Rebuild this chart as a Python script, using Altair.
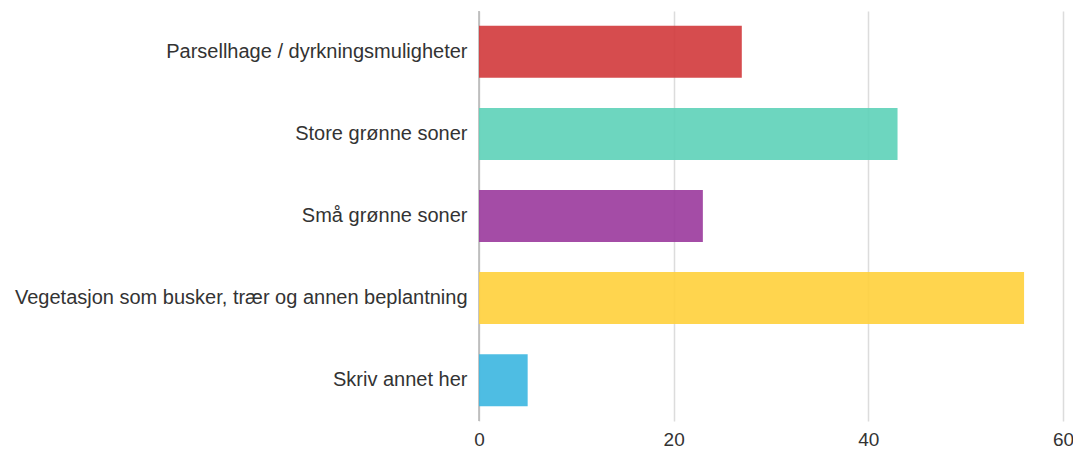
import altair as alt
import pandas as pd

categories = [
    "Parsellhage / dyrkningsmuligheter",
    "Store grønne soner",
    "Små grønne soner",
    "Vegetasjon som busker, trær og annen beplantning",
    "Skriv annet her",
]
values = [27, 43, 23, 56, 5]
colors = ["#d2383b", "#5dd1b8", "#9a389c", "#ffd03b", "#3bb6e0"]
x_ticks = [0, 20, 40, 60]

df = pd.DataFrame({"kategori": categories, "antall": values})

FONT = "Liberation Sans, Arial, sans-serif"

bars = alt.Chart(df).mark_bar(opacity=0.9).encode(
    y=alt.Y(
        "kategori:N",
        sort=categories,
        title=None,
        scale=alt.Scale(paddingInner=0.366, paddingOuter=0.18),
        axis=alt.Axis(
            domain=False, ticks=False, labelPadding=12, labelFontSize=20,
            labelFont=FONT, labelColor="#333333", labelLimit=600, grid=False,
        ),
    ),
    x=alt.X(
        "antall:Q",
        title=None,
        scale=alt.Scale(domain=[0, 60], nice=False),
        axis=alt.Axis(
            values=x_ticks, domain=False, ticks=False, labelPadding=9,
            labelFontSize=19, labelFont=FONT, labelColor="#333333",
            labelFlush=False, labelOverlap=False,
            grid=True, gridColor="#dcdcdc", gridWidth=1.5,
        ),
    ),
    color=alt.Color(
        "kategori:N",
        scale=alt.Scale(domain=categories, range=colors),
        legend=None,
    ),
)

zero = alt.Chart(pd.DataFrame({"x": [0]})).mark_rule(
    color="#b5b5b5", strokeWidth=1.5
).encode(x="x:Q")

chart = alt.layer(zero, bars).properties(
    width=584,
    height=410,
    autosize=alt.AutoSizeParams(type="none"),
    padding={"left": 471, "top": 3, "right": 10, "bottom": 32},
).configure_view(stroke=None)

chart.save("out.html", embed_options={"renderer": "svg", "actions": False})
